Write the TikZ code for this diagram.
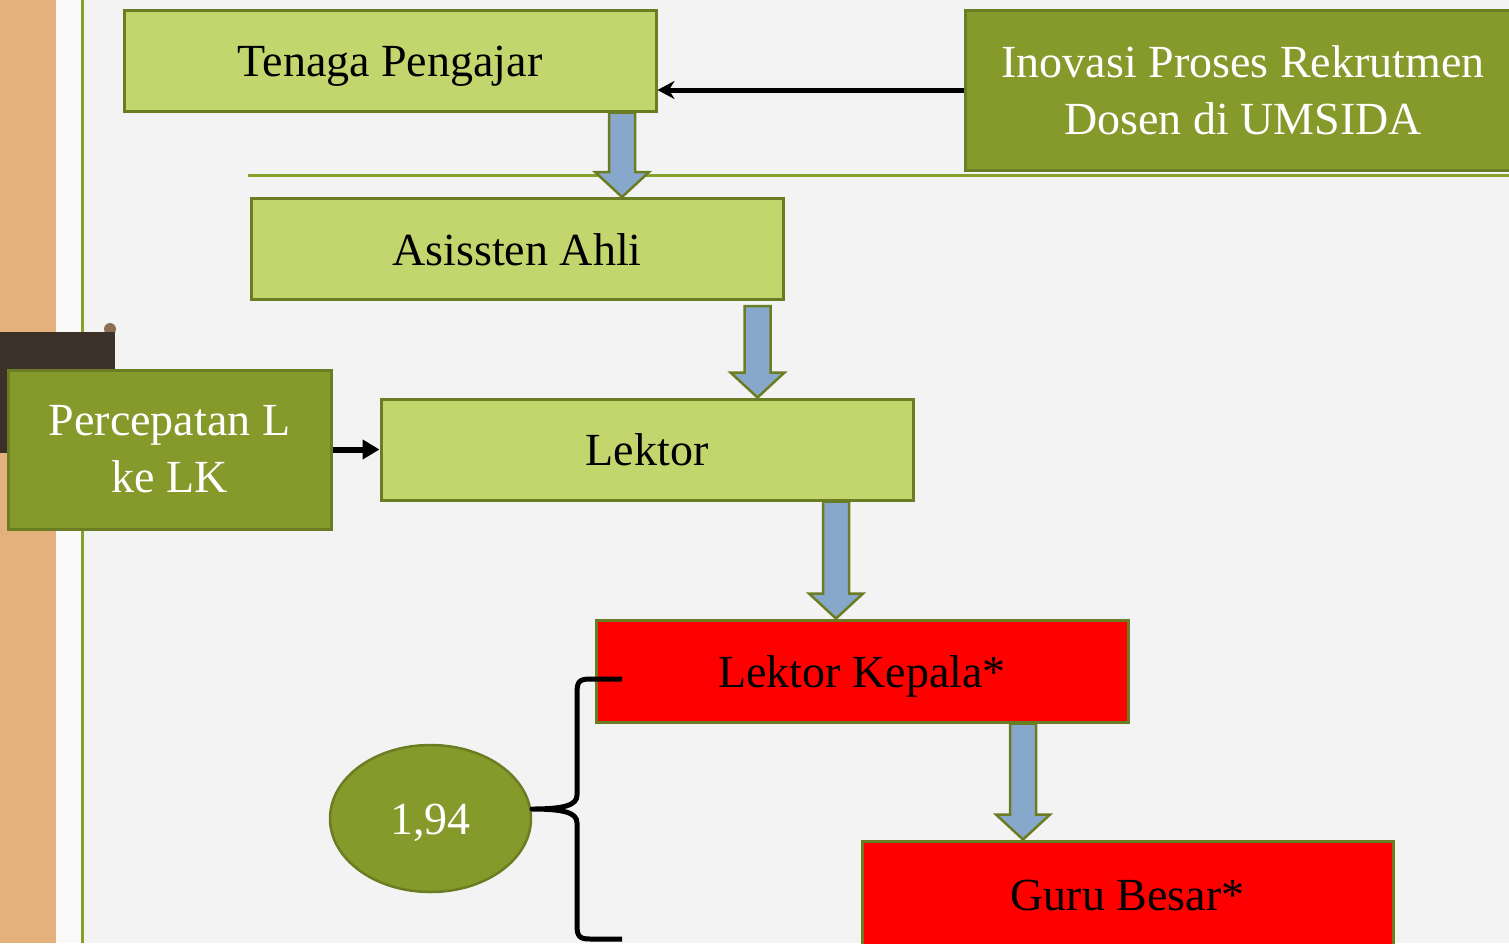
\documentclass[tikz,border=0pt]{standalone}
\usepackage{fontspec}
\setmainfont{Liberation Serif}
\usetikzlibrary{arrows.meta,calc,shapes.geometric}
\definecolor{bgc}{HTML}{F3F3F3}
\definecolor{woodc}{HTML}{E4B07C}
\definecolor{stripc}{HTML}{FAFAFA}
\definecolor{darkbrown}{HTML}{3B3129}
\definecolor{bumpc}{HTML}{8C6E55}
\definecolor{linegreen}{HTML}{86A02C}
\definecolor{lightgreen}{HTML}{C3D66E}
\definecolor{olivefill}{HTML}{86992B}
\definecolor{oliveborder}{HTML}{6B7D23}
\definecolor{arrowblue}{HTML}{87A8CB}
\definecolor{redfill}{HTML}{FF0000}
\newcommand\blockarr[4]{%
  \draw[blockarrow] let \p1=(#2.south), \p2=(#3.north) in
    (#1pt-13pt,\y1-#4pt) -- (#1pt+13pt,\y1-#4pt) -- (#1pt+13pt,\y2+25pt) -- (#1pt+27pt,\y2+25pt)
    -- (#1pt,\y2) -- (#1pt-27pt,\y2+25pt) -- (#1pt-13pt,\y2+25pt) -- cycle;}
\begin{document}
\begin{tikzpicture}[x=1pt,y=-1pt,
  basebox/.style={draw=oliveborder, line width=3pt, inner sep=0pt, align=center,
    font=\fontsize{46}{57}\selectfont},
  oneline/.style={text height=32pt, text depth=0pt},
  lightbox/.style={basebox, oneline, fill=lightgreen, minimum width=532pt, minimum height=101pt},
  redbox/.style={basebox, oneline, fill=redfill, minimum width=532pt, minimum height=102pt},
  darkbox/.style={basebox, fill=olivefill, text=white},
  blockarrow/.style={draw=oliveborder, fill=arrowblue, line width=2.5pt, line join=miter},
  thinarrow/.style={draw=black, line width=5pt, -{Stealth[length=17pt,width=18pt]}},
  thickarrow/.style={draw=black, line width=6pt, -{Triangle[length=17pt,width=19pt]}},
  bracestyle/.style={draw=black, line width=5pt, line join=round, line cap=butt}]
\useasboundingbox (0,0) rectangle (1509,943);
% background
\fill[bgc] (0,0) rectangle (1509,943);
\fill[woodc] (0,0) rectangle (56,943);
\fill[stripc] (56,0) rectangle (81,943);
\draw[linegreen, line width=3pt] (82.5,0) -- (82.5,943);
\fill[bumpc] (110,329) circle (6);
\fill[darkbrown] (0,332) rectangle (115,453);
\draw[linegreen, line width=3pt] (248,175) -- (1509,175);
% nodes
\node[lightbox] (tp) at (390,60.5) {Tenaga Pengajar};
\node[darkbox, minimum width=556pt, minimum height=160pt] (ino) at (1243,90)
  {Inovasi Proses Rekrutmen\\Dosen di UMSIDA};
\node[lightbox] (aa) at (517,249) {Asissten Ahli};
\node[lightbox] (lk) at (647,449.5) {Lektor};
\node[darkbox, minimum width=323pt, minimum height=159pt] (pc) at (169.5,449.5)
  {Percepatan L\\ke LK};
\node[redbox] (lkk) at (862,671) {Lektor Kepala*};
\node[redbox, minimum width=531pt, minimum height=106pt] (gb) at (1127.5,894) {Guru Besar*};
\node[ellipse, draw=oliveborder, line width=2.5pt, fill=olivefill, text=white,
  minimum width=201pt, minimum height=147pt, inner sep=0pt, oneline,
  font=\fontsize{46}{57}\selectfont] (el) at (430.5,818.5) {1,94};
% connectors
\draw[thinarrow] (ino.west) -- (tp.east |- ino.west);
\draw[thickarrow] (pc.east) -- (lk.west);
\blockarr{622}{tp}{aa}{0}
\blockarr{757.5}{aa}{lk}{5}
\blockarr{836}{lk}{lkk}{0}
\blockarr{1023}{lkk}{gb}{0}
% brace
\coordinate (bt) at (622,679);
\coordinate (bb) at (622,939);
\coordinate (tip) at (532,809);
\draw[bracestyle] (bt) -- (590,679) .. controls (579,679) and (577,682) .. (577,693)
  -- (577,795) .. controls (577,805) and (565,809) .. (tip)
  .. controls (565,809) and (577,813) .. (577,823)
  -- (577,925) .. controls (577,936) and (579,939) .. (590,939) -- (bb);
\end{tikzpicture}
\end{document}
